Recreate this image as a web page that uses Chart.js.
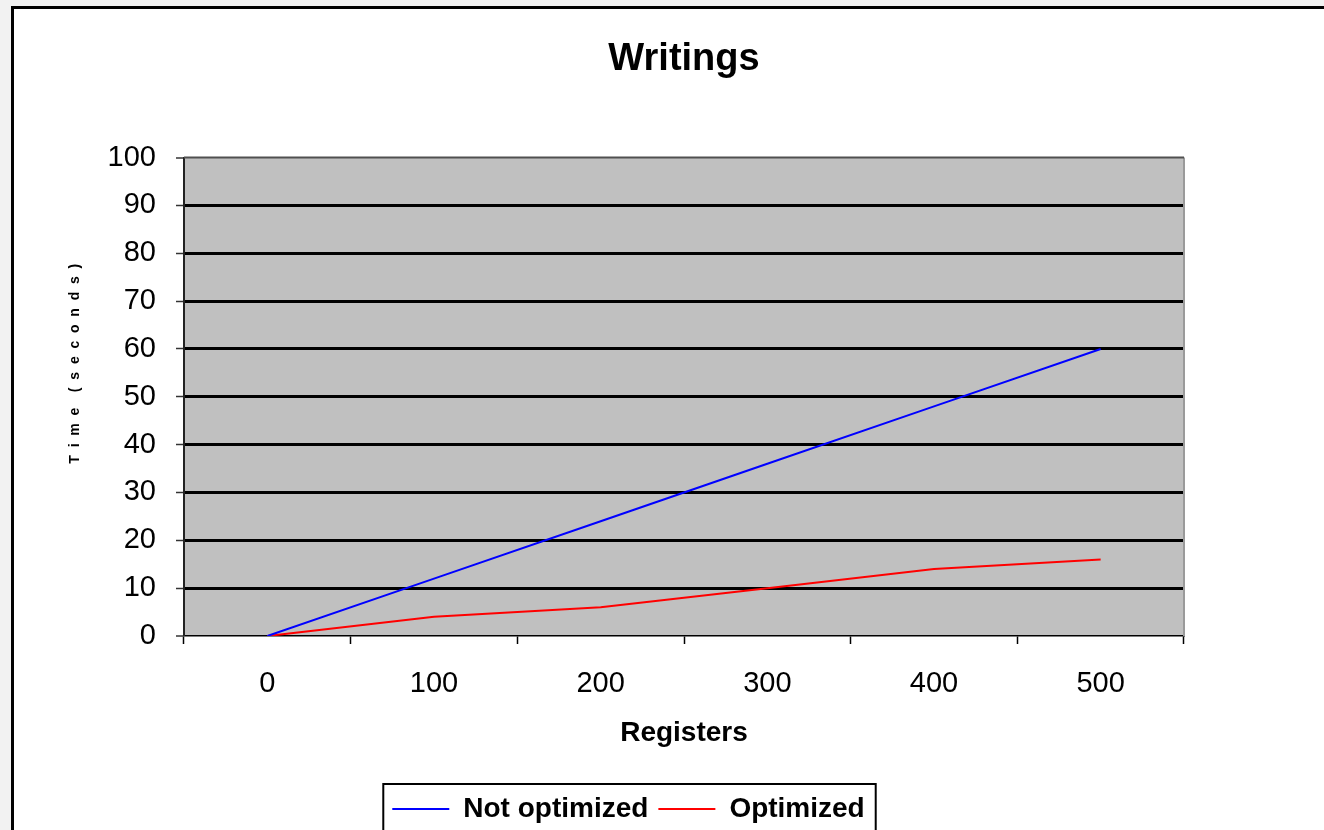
<!DOCTYPE html>
<html>
<head>
<meta charset="utf-8">
<title>Writings</title>
<script src="https://cdn.jsdelivr.net/npm/chart.js@4.4.1/dist/chart.umd.min.js"></script>
<style>
  html, body { margin: 0; padding: 0; overflow: hidden; background: #f2f2f2; }
  #frame {
    position: absolute; left: 11px; top: 6px; width: 1400px; height: 900px;
    border: 3px solid #000; background: #fff;
  }
  #chart { position: absolute; left: 0; top: 0; }
</style>
</head>
<body>
<div id="frame"></div>
<canvas id="chart" width="1324" height="833"></canvas>
<script>
// ----------------- Data ------------------------//
const registers = ['0', '100', '200', '300', '400', '500']
const notOptimized = [0, 12, 24, 36, 48, 60]
const optimized = [0, 4, 6, 10, 14, 16]
const timeTicks = [0, 10, 20, 30, 40, 50, 60, 70, 80, 90, 100]

const FONT = "'Liberation Sans', Arial, sans-serif"

// gray plot area, frame lines and the box round the legend
const plotFrame = {
  id: 'plotFrame',
  beforeDraw(chart) {
    const { ctx, chartArea: a } = chart
    ctx.save()
    ctx.fillStyle = '#c0c0c0'
    ctx.fillRect(a.left, a.top, a.right - a.left, a.bottom - a.top)
    ctx.restore()
  },
  afterDatasetsDraw(chart) {
    const { ctx, chartArea: a } = chart
    ctx.save()
    ctx.lineWidth = 2
    ctx.strokeStyle = '#9a9a9a'
    ctx.beginPath()
    ctx.moveTo(a.right, a.top)
    ctx.lineTo(a.right, a.bottom)
    ctx.stroke()
    ctx.strokeStyle = '#505050'
    ctx.beginPath()
    ctx.moveTo(a.left, a.top)
    ctx.lineTo(a.right, a.top)
    ctx.stroke()
    ctx.restore()
  },
  afterDraw(chart) {
    const legend = chart.legend
    if (!legend || !legend.legendHitBoxes.length) return
    const boxes = legend.legendHitBoxes
    const left = Math.min(...boxes.map((b) => b.left)) - 9
    const right = Math.max(...boxes.map((b) => b.left + b.width)) + 11
    const { ctx } = chart
    ctx.save()
    ctx.lineWidth = 2
    ctx.strokeStyle = '#000'
    ctx.strokeRect(left, legend.top - 1, right - left, legend.bottom - legend.top + 4)
    ctx.restore()
  },
}

const plotData = () => {
  const canvas = document.getElementById('chart')

  new Chart(canvas, {
    type: 'line',
    data: {
      labels: registers,
      datasets: [
        {
          label: 'Not optimized',
          data: notOptimized,
          borderColor: '#0000ff',
          backgroundColor: '#0000ff',
          borderWidth: 2,
          pointRadius: 0,
          tension: 0,
          yAxisID: 'y',
        },
        {
          label: 'Optimized',
          data: optimized,
          borderColor: '#ff0000',
          backgroundColor: '#ff0000',
          borderWidth: 2,
          pointRadius: 0,
          tension: 0,
          yAxisID: 'y',
        },
      ],
    },
    options: {
      responsive: false,
      animation: false,
      devicePixelRatio: 1,
      layout: { padding: { left: 0, right: 67, top: 0, bottom: 0 } },
      scales: {
        x: {
          offset: true,
          grid: {
            offset: true,
            drawOnChartArea: false,
            drawTicks: true,
            tickLength: 8,
            tickColor: '#000',
            tickWidth: 1.5,
          },
          border: { display: true, color: '#000', width: 1.5 },
          ticks: {
            color: '#000',
            padding: 23,
            font: { family: FONT, size: 29 },
          },
          title: {
            display: true,
            text: 'Registers',
            color: '#000',
            font: { family: FONT, size: 28, weight: 'bold' },
            padding: { top: 14, bottom: 35 },
          },
          afterFit: (scale) => {
            scale.height = 149
          },
        },
        y: {
          min: 0,
          max: 100,
          afterBuildTicks: (scale) => {
            scale.ticks = timeTicks.map((v) => ({ value: v }))
          },
          grid: {
            color: '#000',
            lineWidth: (c) => (c.tick && (c.tick.value === 0 || c.tick.value === 100) ? 0 : 3),
            tickLength: 8,
            tickColor: '#333',
            tickWidth: 1.5,
          },
          border: { display: true, color: '#222', width: 2 },
          ticks: {
            color: '#000',
            padding: 20,
            font: { family: FONT, size: 29 },
          },
          title: {
            display: true,
            text: '                 T  i  m  e    (  s  e  c  o  n  d  s  )',
            color: '#000',
            font: { family: FONT, size: 14, weight: 'bold' },
            padding: { top: 67, bottom: 20 },
          },
          afterFit: (scale) => {
            scale.width = 184
          },
        },
        // empty right axis, only keeps room so the legend sits where it does
        yr: {
          position: 'right',
          display: true,
          grid: { display: false },
          border: { display: false },
          ticks: { display: false },
          afterFit: (scale) => {
            scale.width = 73
          },
        },
      },
      plugins: {
        title: {
          display: true,
          text: 'Writings',
          fullSize: false,
          color: '#000',
          font: { family: FONT, size: 38, weight: 'bold' },
          padding: { top: 37, bottom: 75 },
        },
        legend: {
          display: true,
          position: 'bottom',
          labels: {
            color: '#000',
            boxWidth: 57,
            boxHeight: 0,
            padding: 10,
            font: { family: FONT, size: 28, weight: 'bold' },
          },
        },
        tooltip: { enabled: false },
      },
    },
    plugins: [plotFrame],
  })
}

plotData()
</script>
</body>
</html>
